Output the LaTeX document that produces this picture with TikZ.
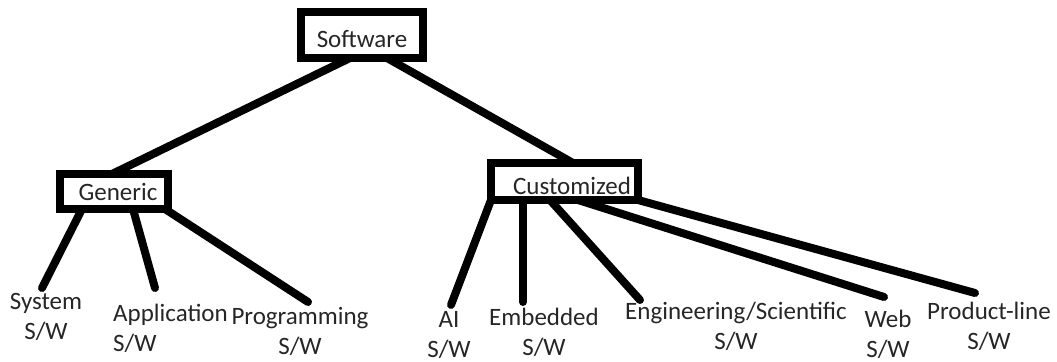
\documentclass[tikz,border=0pt]{standalone}
\usepackage{fontspec}
\setmainfont{Carlito}
\usetikzlibrary{calc}

\begin{document}
\begin{tikzpicture}[x=0.5pt, y=-0.5pt,
        every node/.style={font=\fontsize{12.5}{15}\selectfont, text=black!85},
        swbox/.style={draw, line width=4pt, outer sep=0pt, inner sep=0pt},
        leaf/.style={align=center, inner sep=0pt},
        branch/.style={line width=4pt, line cap=round}]
        \useasboundingbox (0,0) rectangle (1057,362);

        % Draw the boxes
        \node[swbox, minimum width=61pt, minimum height=23pt, text height=13pt, text depth=0pt] (software) at (362,35) {Software};
        \node[swbox, minimum width=54pt, minimum height=17.5pt] (generic) at (114,191.5) {\hspace*{4pt}Generic};
        \node[swbox, minimum width=73.5pt, minimum height=18.5pt, text height=13.5pt, text depth=0pt] (custom) at (564.5,181.5) {\hspace*{7.5pt}Customized};

        % Draw the kinds of software
        \node[leaf] (system) at (46,316.5) {System\\S/W};
        \node[leaf, align=left] (application) at (170.5,328) {Application\\S/W};
        \node[leaf] (programming) at (300,331) {Programming\\S/W};
        \node[leaf] (ai) at (449,335.5) {AI\\S/W};
        \node[leaf] (embedded) at (544,332.5) {Embedded\\S/W};
        \node[leaf] (engineering) at (736,326) {Engineering/Scientific\\S/W};
        \node[leaf] (web) at (888,334) {Web\\S/W};
        \node[leaf] (productline) at (989,326.5) {Product-line\\S/W};

        % Draw the branches from Software
        \draw[branch] ($(software.south west)+(49,0)$) -- ($(generic.north west)+(52,0)$);
        \draw[branch] ($(software.south west)+(86,0)$) -- ($(custom.north west)+(82,0)$);

        % Draw the branches from Generic
        \draw[branch] ($(generic.south west)+(22,0)$) -- ($(system)+(-4,-28.5)$);
        \draw[branch] ($(generic.south west)+(73,0)$) -- ($(application)+(-15.5,-40)$);
        \draw[branch] ($(generic.south east)+(-3,0)$) -- ($(programming)+(8,-29)$);

        % Draw the branches from Customized
        \draw[branch] (custom.south west) -- ($(ai)+(2,-30.5)$);
        \draw[branch] ($(custom.south west)+(32,0)$) -- ($(embedded)+(-21,-30.5)$);
        \draw[branch] ($(custom.south west)+(59,0)$) -- ($(engineering)+(-96,-26)$);
        \draw[branch] ($(custom.south west)+(87,0)$) -- ($(web)+(-4,-37)$);
        \draw[branch] (custom.south east) -- ($(productline)+(-14,-33.5)$);
    \end{tikzpicture}
\end{document}
